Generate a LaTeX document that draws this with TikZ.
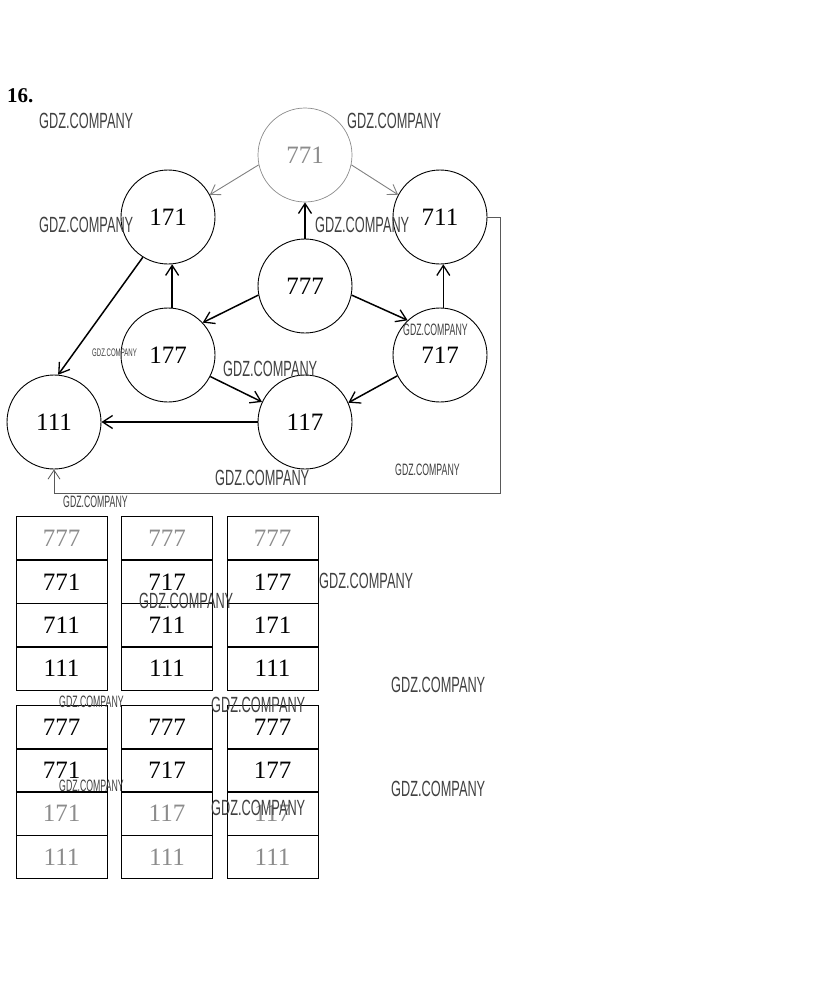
\documentclass[tikz,border=0pt]{standalone}
\usepackage{fontspec}
\usepackage{graphicx}
\setmainfont{Liberation Serif}
\newfontfamily\wmfont{Liberation Sans}
\usetikzlibrary{arrows.meta}
\newcommand\gdzL{{\wmfont\fontsize{22}{22}\selectfont\scalebox{0.58}[1]{GDZ.COMPANY}}}
\newcommand\gdzS{{\wmfont\fontsize{16.5}{16.5}\selectfont\scalebox{0.53}[1]{GDZ.COMPANY}}}
\newcommand\gdzT{{\wmfont\fontsize{11}{11}\selectfont\scalebox{0.55}[1]{GDZ.COMPANY}}}
\begin{document}
\begin{tikzpicture}[x=1pt,y=-1pt,
  st/.style={circle,draw,line width=0.9pt,minimum size=94pt,inner sep=0pt,font=\fontsize{25}{25}\selectfont},
  faded/.style={draw=black!45,text=black!45,line width=0.7pt},
  ar/.style={line width=1.5pt,-{Straight Barb[length=10pt,width=13pt,line width=1.3pt]}},
  far/.style={line width=0.9pt,draw=black!50,-{Straight Barb[length=9pt,width=12pt,line width=0.9pt]}},
  cell/.style={draw,line width=0.9pt,minimum width=91pt,minimum height=43.5pt,inner sep=0pt,outer sep=0pt,font=\fontsize{25}{25}\selectfont},
  num/.style={font=\fontsize{25}{25}\selectfont},
  fnum/.style={num,text=black!45},
  wm/.style={anchor=west,inner sep=0pt,text=black!75}
]
\useasboundingbox (0,0) rectangle (823,993);
\node[anchor=west,inner sep=0pt,font=\fontsize{21}{21}\selectfont\bfseries] (title) at (7,96) {16.};

% states
\node[st,faded] (s771) at (305,155) {771};
\node[st] (s171) at (168,217) {171};
\node[st] (s711) at (440,217) {711};
\node[st] (s777) at (305,286) {777};
\node[st] (s177) at (168,355) {177};
\node[st] (s717) at (440,355) {717};
\node[st] (s111) at (54,422) {111};
\node[st] (s117) at (305,422) {117};

% transitions
\draw[far] (s771.192) -- (s171.28);
\draw[far] (s771.348) -- (s711.152);
\draw[ar] (s777) -- (s771);
\draw[ar] (s777.191) -- (s177.43);
\draw[ar] (s777.349) -- (s717.133);
\draw[ar] (s177.85) -- (s171.275);
\draw[ar] (s717.86) -- (s711.274);
\draw[ar] (s177.333) -- (s117.155);
\draw[ar] (s717.206) -- (s117.24);
\draw[ar] (s117) -- (s111);
\draw[ar] (s171.238) -- (s111.85);
\coordinate (c2) at (500,493);
\coordinate (c3) at (s111.south |- c2);
\draw[line width=0.8pt,draw=black!65,-{Straight Barb[length=9pt,width=12pt,line width=0.8pt]}]
  (s711.east) -- (s711.east -| c2) -- (c2) -- (c3) -- (s111.south);

% tables
\foreach \col/\cx in {a/61.5,b/167,c/272.5}{
  \foreach \row/\cy in {1/538,2/582,3/625.5,4/668.5,5/727.5,6/770.5,7/813.5,8/857}{
    \node[cell] (t\col\row) at (\cx,\cy) {};
  }
}
\node[fnum] (va1) at (ta1) {777};
\node[fnum] (vb1) at (tb1) {777};
\node[fnum] (vc1) at (tc1) {777};
\node[num] (va2) at (ta2) {771};
\node[num] (vb2) at (tb2) {717};
\node[num] (vc2) at (tc2) {177};
\node[num] (va3) at (ta3) {711};
\node[num] (vb3) at (tb3) {711};
\node[num] (vc3) at (tc3) {171};
\node[num] (va4) at (ta4) {111};
\node[num] (vb4) at (tb4) {111};
\node[num] (vc4) at (tc4) {111};
\node[num] (va5) at (ta5) {777};
\node[num] (vb5) at (tb5) {777};
\node[num] (vc5) at (tc5) {777};
\node[num] (va6) at (ta6) {771};
\node[num] (vb6) at (tb6) {717};
\node[num] (vc6) at (tc6) {177};
\node[fnum] (va7) at (ta7) {171};
\node[fnum] (vb7) at (tb7) {117};
\node[fnum] (vc7) at (tc7) {117};
\node[fnum] (va8) at (ta8) {111};
\node[fnum] (vb8) at (tb8) {111};
\node[fnum] (vc8) at (tc8) {111};

% watermarks
\node[wm] (w1) at (39,121) {\gdzL};
\node[wm] (w2) at (347,121) {\gdzL};
\node[wm] (w3) at (39,225) {\gdzL};
\node[wm] (w4) at (315,225) {\gdzL};
\node[wm] (w5) at (92,353) {\gdzT};
\node[wm] (w6) at (223,369) {\gdzL};
\node[wm] (w7) at (403,330) {\gdzS};
\node[wm] (w8) at (215,478) {\gdzL};
\node[wm] (w9) at (395,470) {\gdzS};
\node[wm] (w10) at (63,502) {\gdzS};
\node[wm] (w11) at (319,581) {\gdzL};
\node[wm] (w12) at (139,601) {\gdzL};
\node[wm] (w13) at (59,702) {\gdzS};
\node[wm] (w14) at (211,705) {\gdzL};
\node[wm] (w15) at (391,685) {\gdzL};
\node[wm] (w16) at (59,786) {\gdzS};
\node[wm] (w17) at (211,808) {\gdzL};
\node[wm] (w18) at (391,789) {\gdzL};
\end{tikzpicture}
\end{document}
